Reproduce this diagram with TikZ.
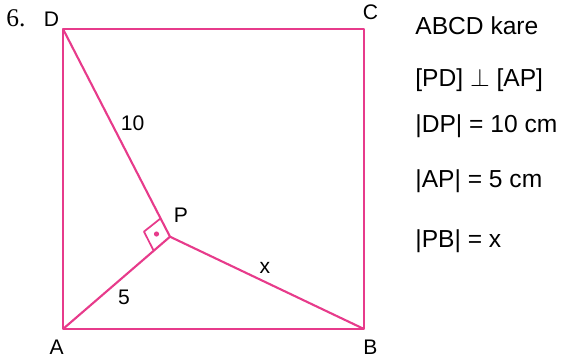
\documentclass[tikz,border=0pt]{standalone}
\usepackage{fontspec}
\setmainfont{Liberation Sans}
\newfontfamily\sorufont{Liberation Serif}
\usetikzlibrary{positioning, calc}
\definecolor{pembe}{RGB}{231,59,139}

\begin{document}
\begin{tikzpicture}[x=0.02cm, y=-0.02cm,
        every node/.style={inner sep=0pt, anchor=base, font=\fontsize{12}{14}\selectfont},
        kenar/.style={draw=pembe, line width=1.2pt, line join=round},
        bilgi/.style={anchor=base west, font=\fontsize{14}{16}\selectfont}
    ]
    \useasboundingbox (0,0) rectangle (563,358);
        % Köşeler
        \coordinate (A) at (63,329);
        \coordinate (B) at (364,329);
        \coordinate (C) at (364,29);
        \coordinate (D) at (63,29);
        \coordinate (P) at (170,236.7);
        \coordinate (dik1) at (160.7,218.3);
        \coordinate (dik2) at (153.3,250);

        % Kare ve doğrular
        \draw[kenar] (A) -- (B) -- (C) -- (D) -- cycle;
        \draw[kenar] (D) -- (P) -- (A);
        \draw[kenar] (P) -- (B);
        \draw[kenar, line width=1pt] (dik1) -- ($(dik1)+(dik2)-(P)$) -- (dik2);
        \fill[pembe] (156.5,234) circle (2.6);

        % Etiketler
        \node (no) at (16,26.7) {\sorufont\fontsize{14.5}{16}\selectfont 6.};
        \node (lD) at (51.5,26.7) {D};
        \node (lC) at (370.5,20) {C};
        \node (lA) at (56.7,354) {A};
        \node (lB) at (370.5,354) {B};
        \node (lP) at (181,222) {P};
        \node (l10) at (132.5,130) {10};
        \node (l5) at (124,304) {5};
        \node (lx) at (265,273) {x};

        % Verilenler
        \node[bilgi] (kare) at (415,35) {ABCD kare};
        \node[bilgi] (dik) at (415,86) {[PD] $\perp$ [AP]};
        \node[bilgi] (dp) at (415,132) {|DP| = 10 cm};
        \node[bilgi] (ap) at (415,187) {|AP| = 5 cm};
        \node[bilgi] (pb) at (415,247) {|PB| = x};
\end{tikzpicture}
\end{document}
